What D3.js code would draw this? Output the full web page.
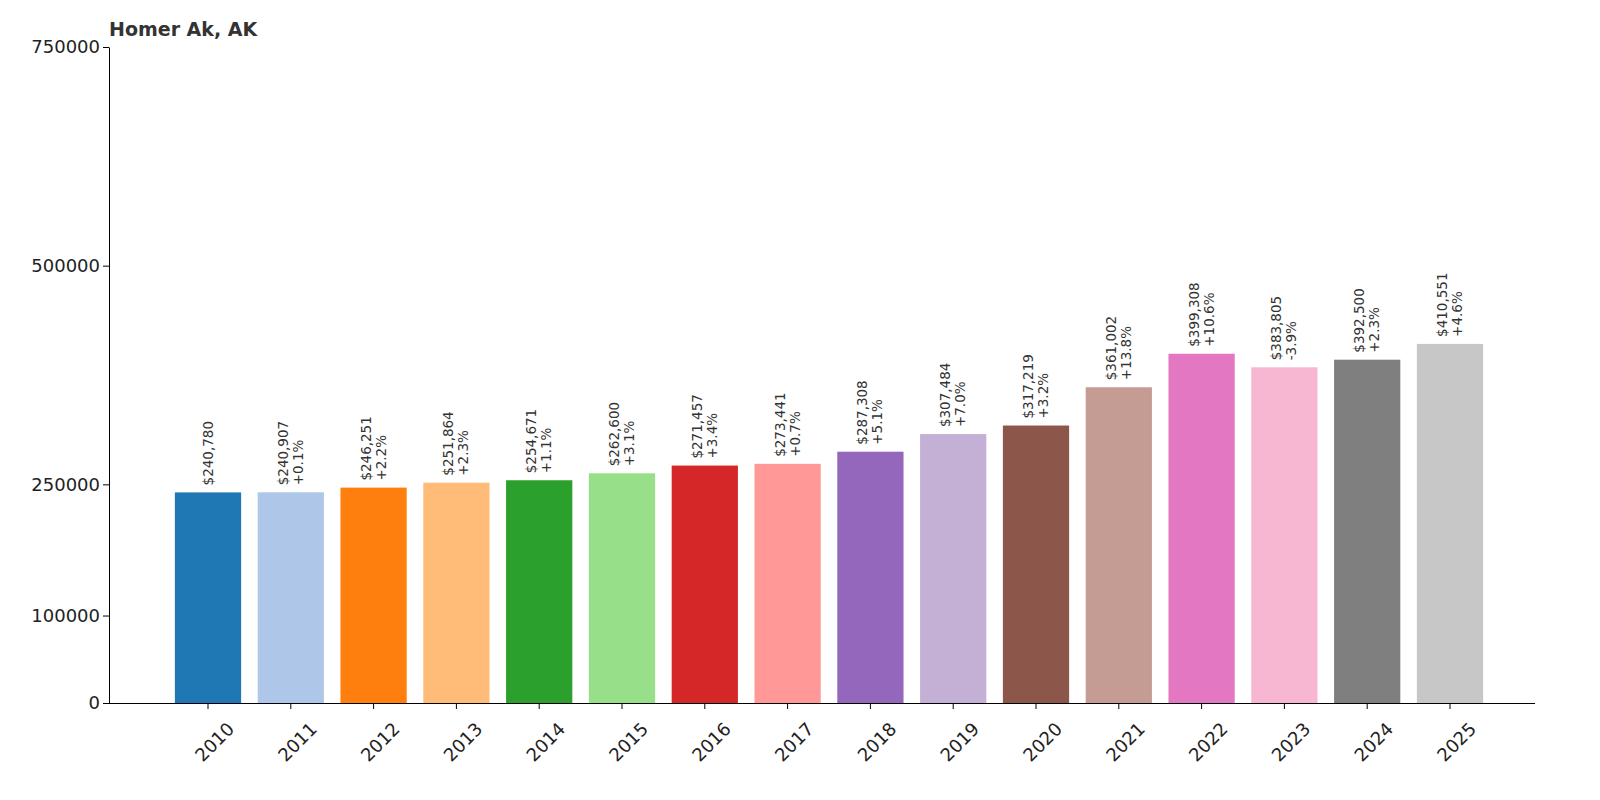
<!DOCTYPE html>
<html><head><meta charset="utf-8">
<script src="https://cdn.jsdelivr.net/npm/d3@7"></script>
<style>body{margin:0;background:#fff}</style></head>
<body><svg id="c" width="1600" height="800"></svg>
<script>
const years=["2010","2011","2012","2013","2014","2015","2016","2017","2018","2019","2020","2021","2022","2023","2024","2025"];
const values=[240780,240907,246251,251864,254671,262600,271457,273441,287308,307484,317219,361002,399308,383805,392500,410551];
const pcts=["","+0.1%","+2.2%","+2.3%","+1.1%","+3.1%","+3.4%","+0.7%","+5.1%","+7.0%","+3.2%","+13.8%","+10.6%","-3.9%","+2.3%","+4.6%"];
const yTicks=[0,100000,250000,500000,750000];
const colors=["#1f77b4","#aec7e8","#ff7f0e","#ffbb78","#2ca02c","#98df8a","#d62728","#ff9896","#9467bd","#c5b0d5","#8c564b","#c49c94","#e377c2","#f7b6d2","#7f7f7f","#c7c7c7"];
const svg=d3.select("#c");
const x=d3.scaleBand().domain(years).range([166.6,1491.4]).paddingInner(0.2).paddingOuter(0.1);
const y=d3.scaleLinear().domain([0,750000]).range([703,47]);
const font="DejaVu Sans, sans-serif";
svg.append("g").selectAll("rect").data(values).join("rect")
 .attr("x",(d,i)=>x(years[i])).attr("width",x.bandwidth())
 .attr("y",d=>y(d)).attr("height",d=>703-y(d)).attr("fill",(d,i)=>colors[i]);
const lab=svg.append("g").attr("font-family",font).attr("font-size",13.5).attr("fill","#333");
values.forEach((v,i)=>{
 const cx=x(years[i])+x.bandwidth()/2, ty=y(v)-7;
 const two=pcts[i]!=="";
 const t=lab.append("text").attr("transform",`translate(${two?cx-3:cx+5},${ty}) rotate(-90)`);
 t.append("tspan").attr("x",0).attr("dy",0).text("$"+d3.format(",")(v));
 if(two) t.append("tspan").attr("x",0).attr("dy",15).text(pcts[i]);
});
const ya=svg.append("g").attr("transform","translate(109,0)").call(d3.axisLeft(y).tickValues(yTicks).tickFormat(d3.format("d")).tickSizeOuter(0));
ya.selectAll("text").attr("font-size",18).attr("font-family",font).attr("fill","#222");
const xa=svg.append("g").attr("transform","translate(0,703)").call(d3.axisBottom(x).tickSizeOuter(0));
xa.select(".domain").attr("d","M109,0.5H1535");
xa.selectAll("text").attr("font-size",18).attr("font-family",font).attr("fill","#222")
 .attr("text-anchor","end").attr("transform","translate(12,12) rotate(-45)").attr("dy","0.7em");
svg.append("text").attr("x",109).attr("y",36).attr("font-family",font).attr("font-weight","bold").attr("font-size",19).attr("fill","#333").text("Homer Ak, AK");
</script></body></html>
